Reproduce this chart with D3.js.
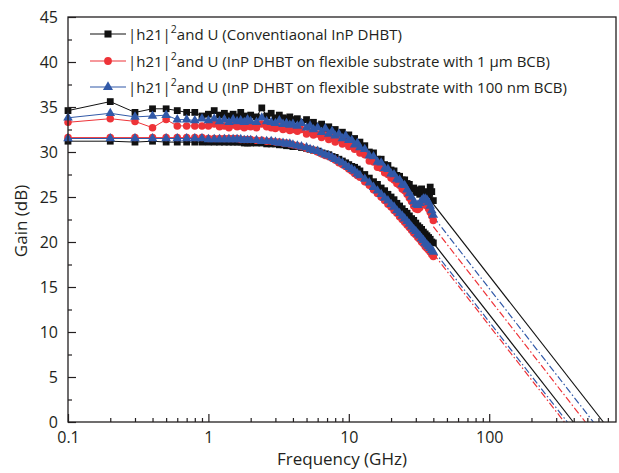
<!DOCTYPE html>
<html><head><meta charset="utf-8">
<script src="https://cdn.jsdelivr.net/npm/d3@7"></script>
<style>body{margin:0;background:#fff}svg{display:block}text{font-family:"Open Sans","Noto Sans",sans-serif;fill:#231f20}</style>
</head><body><svg id="c" width="619" height="473"></svg>
<script>
// Frequency points (GHz)
const freq = [0.1,0.2,0.3,0.4,0.5,0.6,0.7,0.8,0.9,
 1,1.1,1.2,1.3,1.4,1.5,1.6,1.7,1.8,1.9,2,
 2.2,2.4,2.6,2.8,3,3.2,3.4,3.6,3.8,4,
 4.3,4.6,5,5.3,5.6,6,6.4,6.8,7.2,7.6,8,8.5,9,9.5,10,
 10.5,11,11.5,12,
 13,14,15,16,17,18,19,20,21,22,23,24,25,26,27,28,29,30,31,32,33,34,35,36,37,38,39,40];

// Conventional InP DHBT
const h21Conv = [31.2,31.2,31.1,31.2,31.1,31.1,31.1,31.1,31.1,
 31.1,31.1,31.1,31.1,31.1,31.1,31.1,31.1,31.0,31.0,31.0,
 31.0,31.0,30.9,30.9,30.9,30.8,30.8,30.7,30.7,30.6,
 30.6,30.5,30.4,30.3,30.2,30.1,29.9,29.8,29.7,29.5,29.4,29.2,29.0,28.8,28.6,
 28.4,28.3,28.1,27.9,
 27.5,27.1,26.7,26.4,26.0,25.7,25.3,25.0,24.7,24.3,24.0,23.7,23.4,23.2,22.9,22.6,22.4,22.1,21.8,21.6,21.4,21.1,20.9,20.7,20.5,20.3,20.0,19.9];
const uConv = [34.6,35.6,34.4,34.8,34.8,34.6,34.4,34.4,34.0,
 34.2,34.6,34.1,34.3,34.0,34.2,33.9,34.4,34.0,33.9,34.1,
 33.9,34.9,34.0,34.3,33.8,34.1,33.8,33.7,33.9,33.6,
 33.7,33.3,33.6,33.1,33.3,32.9,33.1,32.6,32.8,32.3,32.5,32.0,32.2,31.7,31.9,
 31.4,31.5,31.0,31.1,
 30.7,30.0,29.9,29.2,29.2,28.6,28.5,28.0,27.9,27.4,27.3,26.9,26.9,26.5,26.4,25.9,26.0,25.5,25.8,25.3,25.9,25.4,25.4,25.6,25.2,26.1,25.6,24.6];

// InP DHBT on flexible substrate with 1 um BCB
const h21Bcb1 = [31.6,31.6,31.6,31.6,31.6,31.6,31.6,31.6,31.6,
 31.5,31.5,31.5,31.5,31.5,31.5,31.5,31.4,31.4,31.4,31.4,
 31.3,31.3,31.2,31.2,31.1,31.1,31.0,31.0,30.9,30.8,
 30.7,30.6,30.4,30.3,30.2,30.0,29.8,29.6,29.5,29.3,29.1,28.8,28.6,28.4,28.1,
 27.9,27.6,27.4,27.2,
 26.7,26.3,25.8,25.4,25.0,24.6,24.2,23.9,23.5,23.2,22.8,22.5,22.2,21.9,21.6,21.3,21.0,20.8,20.5,20.3,20.0,19.8,19.5,19.3,19.1,18.9,18.6,18.4];
const uBcb1 = [33.3,33.7,33.4,32.7,33.6,32.9,32.9,32.9,32.9,
 32.9,33.1,32.8,32.9,32.7,33.0,32.8,32.9,32.7,32.9,32.8,
 32.7,33.1,32.8,32.7,32.6,32.8,32.5,32.6,32.4,32.5,
 32.3,32.5,32.0,32.2,31.9,32.0,31.6,31.9,31.4,31.6,31.1,31.4,30.9,31.1,30.6,
 30.7,30.3,30.4,29.9,
 29.7,29.0,28.9,28.3,28.2,27.7,27.5,27.1,26.9,26.5,26.3,25.9,25.7,25.3,24.9,24.5,24.0,23.7,23.6,23.8,24.1,24.3,24.2,24.0,23.7,23.3,22.9,22.4];

// InP DHBT on flexible substrate with 100 nm BCB
const h21Bcb100 = [31.5,31.5,31.5,31.5,31.5,31.5,31.5,31.5,31.5,
 31.4,31.4,31.4,31.4,31.4,31.4,31.4,31.4,31.3,31.3,31.3,
 31.3,31.2,31.2,31.2,31.1,31.0,31.0,30.9,30.9,30.8,
 30.7,30.6,30.5,30.3,30.2,30.1,29.9,29.7,29.6,29.4,29.2,29.0,28.8,28.5,28.3,
 28.1,27.9,27.6,27.4,
 27.0,26.6,26.1,25.7,25.3,24.9,24.6,24.2,23.9,23.5,23.2,22.9,22.6,22.3,22.0,21.7,21.4,21.2,20.9,20.7,20.4,20.2,19.9,19.7,19.5,19.3,19.1,18.9];
const uBcb100 = [33.8,34.3,33.9,34.0,34.1,33.6,33.6,33.5,33.7,
 33.5,33.7,33.4,33.6,33.3,33.6,33.4,33.5,33.3,33.6,33.4,
 33.3,33.8,33.4,33.3,33.2,33.5,33.1,33.2,33.0,33.1,
 32.9,33.2,32.7,32.9,32.5,32.7,32.2,32.6,32.0,32.3,31.8,32.0,31.5,31.8,31.3,
 31.3,30.8,31.0,30.5,
 30.3,29.6,29.5,28.9,28.8,28.2,28.1,27.6,27.5,27.0,26.9,26.4,26.3,25.8,25.4,25.0,24.5,24.2,24.1,24.3,24.6,24.8,24.8,24.7,24.4,24.0,23.5,23.0];

// -20 dB/decade extrapolations: [freq GHz, gain dB] endpoints
const extConvH21 = [[40,19.9],[397,0]];
const extConvU   = [[40,24.2],[650,0]];
const extBcb1H21 = [[40,18.7],[343,0]];
const extBcb1U   = [[40,21.7],[484,0]];
const extBcb100H21 = [[40,19.1],[360,0]];
const extBcb100U   = [[40,22.8],[552,0]];

const legendLabels = ["(Conventiaonal InP DHBT)","(InP DHBT on flexible substrate with 1 \u03bcm BCB)","(InP DHBT on flexible substrate with 100 nm BCB)"];
const yTicks = [0,5,10,15,20,25,30,35,40,45];
const yMinor = [2.5,7.5,12.5,17.5,22.5,27.5,32.5,37.5,42.5];
const xTicks = [0.1,1,10,100];
const xTickLabels = ["0.1","1","10","100"];
const xMinor = [0.2,0.3,0.4,0.5,0.6,0.7,0.8,0.9,2,3,4,5,6,7,8,9,20,30,40,50,60,70,80,90,200,300,400,500,600,700];

const svg = d3.select("#c");
const L=68,R=616,T=17,B=422;
const x = d3.scaleLog().domain([0.1,800]).range([L,R]);
const y = d3.scaleLinear().domain([0,45]).range([B,T]);

const series = [
 {name:"conv", color:"#111111", sym:d3.symbolSquare, size:46, h21:h21Conv, u:uConv, ext:[extConvH21,extConvU], dash:null},
 {name:"bcb1", color:"#ee3338", sym:d3.symbolCircle, size:44, h21:h21Bcb1, u:uBcb1, ext:[extBcb1H21,extBcb1U], dash:"7,2.5,1.5,2.5"},
 {name:"bcb100", color:"#3159a8", sym:d3.symbolTriangle, size:40, h21:h21Bcb100, u:uBcb100, ext:[extBcb100H21,extBcb100U], dash:"7,2.5,1.5,2.5"}
];

const plot = svg.append("g");
const line = d3.line().x(d=>x(d[0])).y(d=>y(d[1]));

series.forEach(s=>{
  s.ext.forEach(e=>{
    plot.append("path").attr("d",line(e)).attr("fill","none")
      .attr("stroke",s.color).attr("stroke-width",1.2)
      .attr("stroke-dasharray",s.dash);
  });
});
series.forEach(s=>{
  [s.h21,s.u].forEach(vals=>{
    const pts = freq.map((f,i)=>[f,vals[i]]);
    plot.append("path").attr("d",line(pts)).attr("fill","none")
      .attr("stroke",s.color).attr("stroke-width",1);
    plot.selectAll(null).data(pts).enter().append("path")
      .attr("d",d3.symbol().type(s.sym).size(s.size))
      .attr("transform",d=>`translate(${x(d[0])},${y(d[1])})`)
      .attr("fill",s.color);
  });
});

// axes
const fs = 16;
svg.append("g").attr("transform",`translate(0,${B})`)
  .call(d3.axisBottom(x).tickValues(xTicks).tickFormat((d,i)=>xTickLabels[i]).tickSizeInner(-8).tickSizeOuter(0).tickPadding(10));
svg.append("g").attr("transform",`translate(0,${B})`)
  .call(d3.axisBottom(x).tickValues(xMinor).tickFormat("").tickSizeInner(-4).tickSizeOuter(0));
svg.append("g").attr("transform",`translate(${L},0)`)
  .call(d3.axisLeft(y).tickValues(yTicks).tickSizeInner(-8).tickSizeOuter(0).tickPadding(10));
svg.append("g").attr("transform",`translate(${L},0)`)
  .call(d3.axisLeft(y).tickValues(yMinor).tickFormat("").tickSizeInner(-4).tickSizeOuter(0));
svg.selectAll(".tick line").attr("stroke","#231f20").attr("stroke-width",1.2);
svg.selectAll(".domain").remove();
svg.selectAll(".tick text").attr("font-size",fs).attr("font-family","'Open Sans',sans-serif").attr("fill","#231f20");
svg.append("rect").attr("x",L).attr("y",T).attr("width",R-L).attr("height",B-T)
  .attr("fill","none").attr("stroke","#231f20").attr("stroke-width",1.3);

// axis titles
svg.append("text").attr("x",342).attr("y",465).attr("text-anchor","middle")
  .attr("font-size",17).text("Frequency (GHz)");
svg.append("text").attr("transform","translate(27,221) rotate(-90)").attr("text-anchor","middle")
  .attr("font-size",17).text("Gain (dB)");

// legend
const legY = [34,61,87];
const lg = svg.append("g");
series.forEach((s,i)=>{
  const g = lg.append("g").attr("transform",`translate(0,${legY[i]})`);
  g.append("line").attr("x1",90).attr("x2",126).attr("y1",0).attr("y2",0)
    .attr("stroke",s.color).attr("stroke-width",1.2);
  g.append("path").attr("d",d3.symbol().type(s.sym).size(s.size+4)).attr("transform","translate(108,0)").attr("fill",s.color);
  const t = g.append("text").attr("x",128).attr("y",6).attr("font-size",15);
  t.append("tspan").text("|h21|");
  t.append("tspan").attr("dy",-7).attr("font-size",10.5).text("2");
  t.append("tspan").attr("dy",7).text("and U "+legendLabels[i]);
});
</script></body></html>
